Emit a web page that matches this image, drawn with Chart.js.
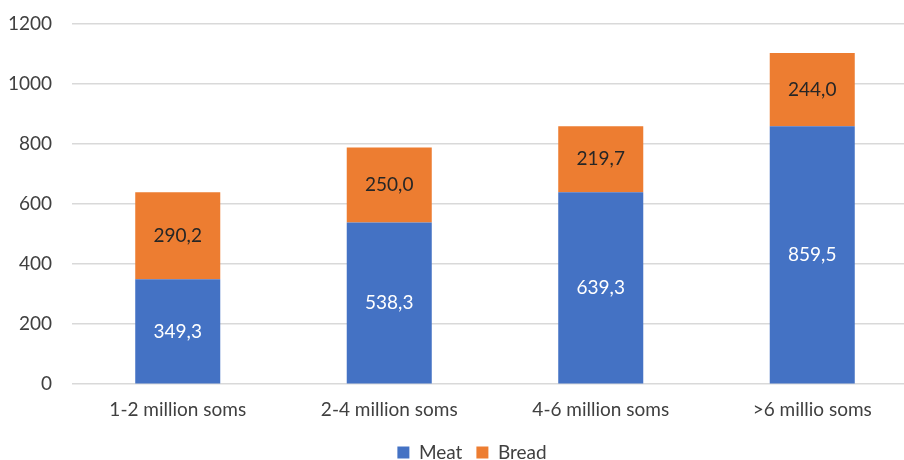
<!DOCTYPE html>
<html>
<head>
<meta charset="utf-8">
<script src="https://cdn.jsdelivr.net/npm/chart.js@4"></script>
<style>
    html, body { margin: 0; padding: 0; background: #fff; overflow: hidden; }
    #wrap { width: 918px; height: 460px; }
</style>
</head>
<body>
<div id="wrap"><canvas id="food-chart"></canvas></div>
<script>
// Datos del gráfico
const categories = ['1-2 million soms', '2-4 million soms', '4-6 million soms', '>6 millio soms'];
const meatValues = [349.3, 538.3, 639.3, 859.5];
const breadValues = [290.2, 250.0, 219.7, 244.0];
const yTicks = [0, 200, 400, 600, 800, 1000, 1200];

const FONT = 'Lato, "Open Sans", sans-serif';
const FONT_SIZE = 19;

// Formato con coma decimal
function fmt(v) {
    return v.toFixed(1).replace('.', ',');
}

// Etiquetas dentro de cada segmento
const barLabels = {
    id: 'barLabels',
    afterDatasetsDraw(chart) {
        const ctx = chart.ctx;
        ctx.save();
        ctx.font = FONT_SIZE + 'px ' + FONT;
        ctx.textAlign = 'center';
        ctx.textBaseline = 'middle';
        chart.data.datasets.forEach((ds, i) => {
            const meta = chart.getDatasetMeta(i);
            meta.data.forEach((bar, j) => {
                const y = (bar.y + bar.base) / 2;
                ctx.fillStyle = ds.labelColor;
                ctx.fillText(fmt(ds.data[j]), bar.x, y);
            });
        });
        ctx.restore();
    }
};

// Mueve la leyenda un poco a la derecha y hacia abajo
const legendShift = {
    id: 'legendShift',
    afterLayout(chart) {
        const lg = chart.legend;
        lg.left += 13;
        lg.right += 13;
        lg.top += 2;
        lg.bottom += 2;
    }
};

const ctx = document.getElementById('food-chart').getContext('2d');
new Chart(ctx, {
    type: 'bar',
    data: {
        labels: categories,
        datasets: [
            { label: 'Meat', data: meatValues, backgroundColor: '#4472C4', labelColor: '#ffffff' },
            { label: 'Bread', data: breadValues, backgroundColor: '#ED7D31', labelColor: '#262626' }
        ]
    },
    options: {
        responsive: true,
        maintainAspectRatio: false,
        animation: false,
        layout: { padding: { left: 0, top: 0, right: 0, bottom: -10 } },
        datasets: {
            bar: { categoryPercentage: 1, barPercentage: 0.402 }
        },
        scales: {
            x: {
                stacked: true,
                grid: { display: false },
                border: { display: false },
                ticks: { color: '#404040', font: { family: FONT, size: FONT_SIZE }, padding: 6 }
            },
            y: {
                stacked: true,
                min: 0,
                max: 1200,
                afterFit(scale) {
                    scale.width = 72;
                    scale.paddingTop = 24;
                    scale.paddingBottom = 0;
                },
                afterBuildTicks(scale) { scale.ticks = yTicks.map(v => ({ value: v })); },
                grid: { color: '#d9d9d9', lineWidth: 1.5, drawTicks: false },
                border: { display: false },
                ticks: {
                    color: '#404040',
                    font: { family: FONT, size: FONT_SIZE },
                    padding: 20,
                    callback: v => String(v)
                }
            }
        },
        plugins: {
            legend: {
                position: 'bottom',
                labels: {
                    boxWidth: 12,
                    boxHeight: 12,
                    padding: 14,
                    color: '#404040',
                    font: { family: FONT, size: FONT_SIZE }
                }
            },
            tooltip: { enabled: false }
        }
    },
    plugins: [barLabels, legendShift]
});
</script>
</body>
</html>
